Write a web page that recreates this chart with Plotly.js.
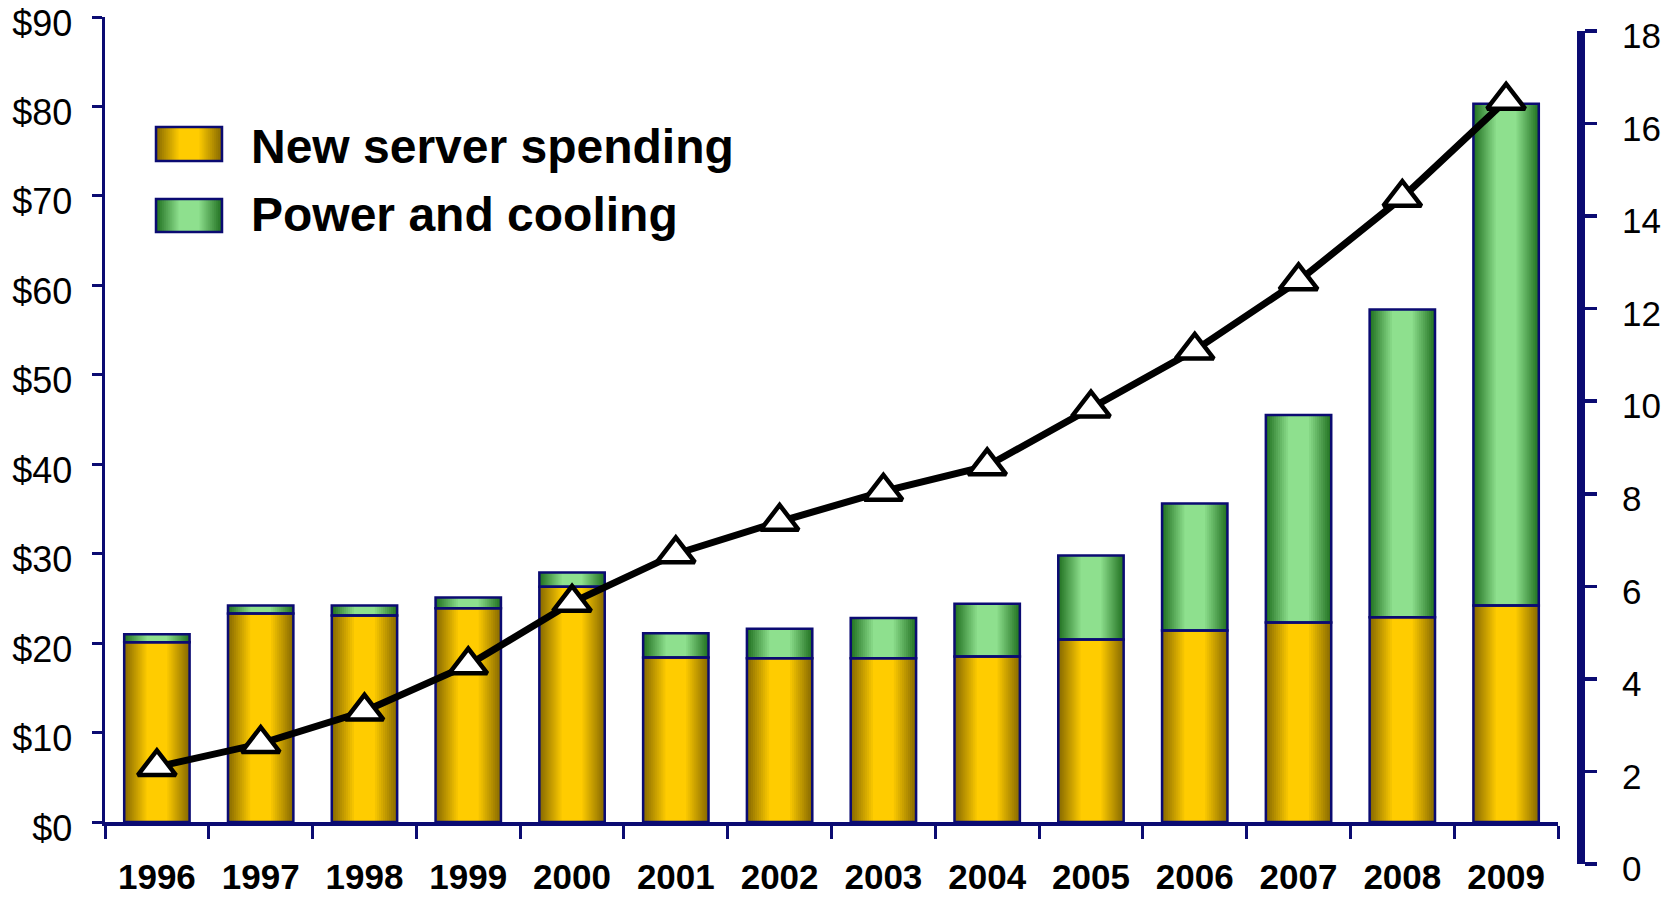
<!DOCTYPE html>
<html>
<head>
<meta charset="utf-8">
<script src="https://cdn.plot.ly/plotly-3.0.1.min.js"></script>
<style>html,body{margin:0;padding:0;background:#fff;}#chart{width:1677px;height:899px;}</style>
</head>
<body>
<div id="chart"></div>
<script>
// ---- data ----
var years = ["1996","1997","1998","1999","2000","2001","2002","2003","2004","2005","2006","2007","2008","2009"];
var newServer = [20.1, 23.3, 23.1, 23.9, 26.3, 18.4, 18.3, 18.3, 18.5, 20.4, 21.4, 22.3, 22.9, 24.2];
var powerCooling = [0.9, 0.9, 1.1, 1.2, 1.6, 2.7, 3.3, 4.5, 5.9, 9.4, 14.2, 23.2, 34.4, 56.1];
var installedBase = [2.1, 2.6, 3.3, 4.3, 5.65, 6.7, 7.4, 8.05, 8.6, 9.85, 11.1, 12.6, 14.4, 16.5];
var seriesNames = ["New server spending", "Power and cooling"];

// ---- styling ----
var NAVY = "#0b0b72";
var FONT = "Liberation Sans, Arial, sans-serif";
var W = 0.63;          // bar width (category units)
var N = 12;            // gradient layers
var goldDark = [138,108,0], goldBright = [255,204,0];
var greenDark = [36,116,36], greenBright = [142,224,142];

function mix(a, b, t) {
  return "rgb(" + a.map(function (v, i) { return Math.round(v + (b[i] - v) * t); }).join(",") + ")";
}

var zeros = years.map(function () { return 0; });
var traces = [];
function addLayers(yvals, baseVals, dark, bright, name) {
  for (var k = 0; k < N; k++) {
    var t = k / (N - 1);
    traces.push({
      type: "bar", x: years, y: yvals, base: baseVals,
      width: W * (1 - 0.68 * t),
      marker: { color: mix(dark, bright, t), line: { width: 0 } },
      name: name, showlegend: false, hoverinfo: "skip"
    });
  }
}
addLayers(newServer, zeros, goldDark, goldBright, seriesNames[0]);
addLayers(powerCooling, newServer, greenDark, greenBright, seriesNames[1]);
// outlines
traces.push({ type: "bar", x: years, y: newServer, base: zeros, width: W,
  marker: { color: "rgba(0,0,0,0)", line: { color: NAVY, width: 2.5 } },
  name: seriesNames[0], showlegend: false });
traces.push({ type: "bar", x: years, y: powerCooling, base: newServer, width: W,
  marker: { color: "rgba(0,0,0,0)", line: { color: NAVY, width: 2.5 } },
  name: seriesNames[1], showlegend: false });
// line on right axis
traces.push({
  type: "scatter", mode: "lines+markers", x: years, y: installedBase,
  xaxis: "x", yaxis: "y2", cliponaxis: false, showlegend: false,
  line: { color: "#000", width: 7 },
  marker: { symbol: "triangle-up", size: 33, color: "#fff", line: { color: "#000", width: 4.5 } }
});

// ---- geometry helpers (pixel -> paper) ----
var L = 105, R = 96, T = 17, B = 35;
var PW = 1677 - L - R, PH = 899 - T - B;
function px(x) { return (x - L) / PW; }
function py(y) { return (899 - B - y) / PH; }

// legend drawn with shapes + annotations
var shapes = [], annotations = [];
function legendSwatch(x0, x1, y0, y1, dark, bright) {
  var half = (x1 - x0) / 2;
  for (var k = 0; k < N; k++) {
    var t = k / (N - 1);
    var inset = half * 0.68 * t;
    shapes.push({ type: "rect", xref: "paper", yref: "paper",
      x0: px(x0 + inset), x1: px(x1 - inset), y0: py(y1), y1: py(y0),
      fillcolor: mix(dark, bright, t), line: { width: 0 }, layer: "above" });
  }
  shapes.push({ type: "rect", xref: "paper", yref: "paper",
    x0: px(x0), x1: px(x1), y0: py(y1), y1: py(y0),
    fillcolor: "rgba(0,0,0,0)", line: { color: NAVY, width: 2.5 }, layer: "above" });
}
legendSwatch(156, 222, 127, 161, goldDark, goldBright);
legendSwatch(156, 222, 199, 232, greenDark, greenBright);
annotations.push({ xref: "paper", yref: "paper", x: px(249), y: py(147), xanchor: "left", yanchor: "middle",
  text: seriesNames[0], showarrow: false, font: { family: FONT, size: 48, weight: "bold", color: "#000" } });
annotations.push({ xref: "paper", yref: "paper", x: px(249), y: py(215), xanchor: "left", yanchor: "middle",
  text: seriesNames[1], showarrow: false, font: { family: FONT, size: 48, weight: "bold", color: "#000" } });

var layout = {
  width: 1677, height: 899,
  margin: { l: L, r: R, t: T, b: B, pad: 0 },
  paper_bgcolor: "#fff", plot_bgcolor: "rgba(0,0,0,0)",
  barmode: "overlay",
  showlegend: false,
  font: { family: FONT, color: "#000" },
  xaxis: {
    type: "category", domain: [0, px(1558)], range: [-0.5, 13.5],
    tickson: "boundaries", ticks: "outside", ticklen: 13, tickwidth: 3, tickcolor: NAVY,
    showline: true, linecolor: NAVY, linewidth: 4, showgrid: false, zeroline: false,
    tickfont: { family: FONT, size: 35, weight: "bold", color: "#000" },
    ticklabelstandoff: 21, ticklabeloverflow: "allow", automargin: false, fixedrange: true
  },
  yaxis: {
    domain: [py(822), 1], range: [0, 90], dtick: 10, tickprefix: "$",
    ticks: "outside", ticklen: 10, tickwidth: 3, tickcolor: NAVY,
    showline: true, linecolor: NAVY, linewidth: 3.5, showgrid: false, zeroline: false,
    tickfont: { family: FONT, size: 36, color: "#000" },
    ticklabelstandoff: 12, ticklabelshift: 6, ticklabeloverflow: "allow", automargin: false, fixedrange: true
  },
  yaxis2: {
    domain: [0, py(31)], range: [0, 18], dtick: 2, anchor: "free", position: 1, side: "right",
    ticks: "outside", ticklen: 12, tickwidth: 3.5, tickcolor: NAVY,
    showline: true, linecolor: NAVY, linewidth: 8, showgrid: false, zeroline: false,
    tickfont: { family: FONT, size: 35, color: "#000" },
    ticklabelstandoff: 18, ticklabelshift: 5, ticklabeloverflow: "allow", automargin: false, fixedrange: true
  },
  shapes: shapes,
  annotations: annotations
};

Plotly.newPlot("chart", traces, layout, { displayModeBar: false, staticPlot: true });
</script>
</body>
</html>
